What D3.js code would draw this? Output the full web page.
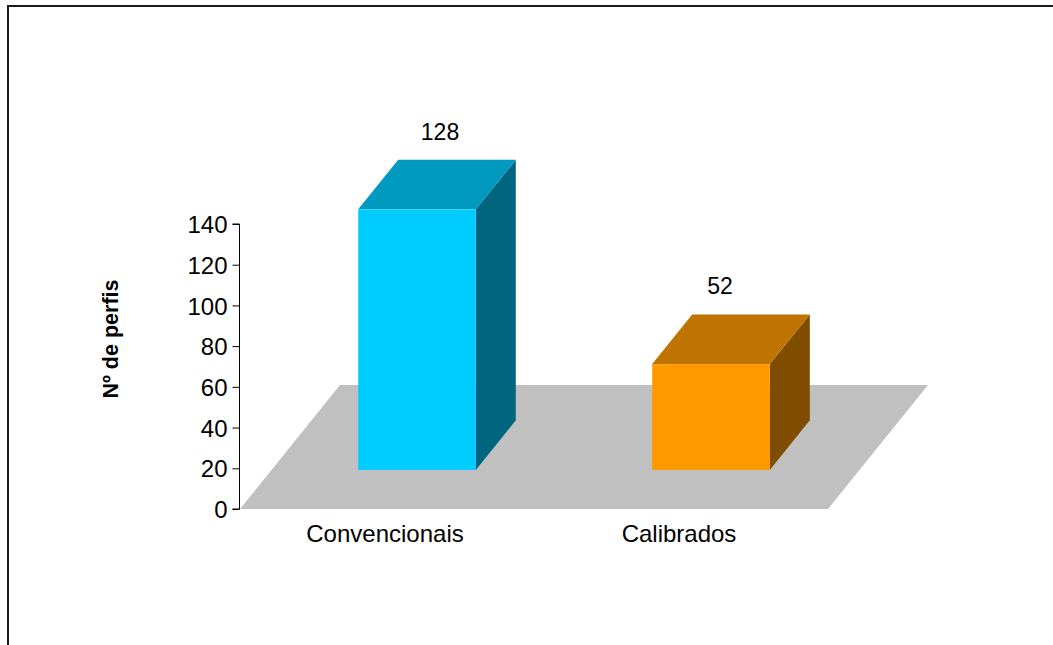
<!DOCTYPE html>
<html>
<head>
<meta charset="utf-8">
<script src="https://cdn.jsdelivr.net/npm/d3@7/dist/d3.min.js"></script>
<style>
  html, body { margin: 0; padding: 0; background: #fff; }
  svg { display: block; font-family: "Liberation Sans", Arial, sans-serif; }
</style>
</head>
<body>
<svg id="chart" width="1053" height="645"></svg>
<script>
// Número de perfis por tipo
const categories = ["Convencionais", "Calibrados"];
const values = [128, 52];
const tickValues = [0, 20, 40, 60, 80, 100, 120, 140];
const axisTitle = "Nº de perfis";

// Cores: frente, topo, lateral
const palette = [
  { front: "#00CCFF", top: "#0099BF", side: "#006680" },
  { front: "#FF9900", top: "#BF7300", side: "#804D00" }
];

const svg = d3.select("#chart");

// Moldura do gráfico
svg.append("rect")
  .attr("x", 8).attr("y", 6)
  .attr("width", 1100).attr("height", 700)
  .attr("fill", "none")
  .attr("stroke", "#1a1a1a")
  .attr("stroke-width", 2);

// Escalas
const x = d3.scaleBand()
  .domain(categories)
  .range([240, 828])
  .paddingInner(0.6)
  .paddingOuter(0.3);

const y = d3.scaleLinear()
  .domain([0, 140])
  .range([509, 224]);

// Profundidade oblíqua do piso e das barras
const depth = { dx: 100, dy: -124 };
const barDepth0 = 0.3, barDepth1 = 0.7;

const pt = (px, py) => px + "," + py;

// Piso
const y0 = y(0);
const x0 = x.range()[0], x1 = x.range()[1];
svg.append("polygon")
  .attr("points", [
    pt(x0, y0), pt(x1, y0),
    pt(x1 + depth.dx, y0 + depth.dy), pt(x0 + depth.dx, y0 + depth.dy)
  ].join(" "))
  .attr("fill", "#C0C0C0");

// Barras 3D
const bars = svg.append("g");
categories.forEach((c, i) => {
  const v = values[i];
  const col = palette[i];
  const fx = x(c) + depth.dx * barDepth0;
  const fy = depth.dy * 0.315;
  const w = x.bandwidth();
  const bx = depth.dx * (barDepth1 - barDepth0);
  const by = depth.dy * (barDepth1 - barDepth0);
  const bottom = y(0) + fy;
  const top = y(v) + fy;

  // lateral
  bars.append("polygon")
    .attr("points", [
      pt(fx + w, bottom), pt(fx + w, top),
      pt(fx + w + bx, top + by), pt(fx + w + bx, bottom + by)
    ].join(" "))
    .attr("fill", col.side);
  // topo
  bars.append("polygon")
    .attr("points", [
      pt(fx, top), pt(fx + w, top),
      pt(fx + w + bx, top + by), pt(fx + bx, top + by)
    ].join(" "))
    .attr("fill", col.top);
  // frente
  bars.append("rect")
    .attr("x", fx).attr("y", top)
    .attr("width", w).attr("height", bottom - top)
    .attr("fill", col.front);

  // rótulo de valor
  bars.append("text")
    .attr("x", fx + w / 2 + bx / 2 + (i === 0 ? 3 : -11))
    .attr("y", top + by - 20)
    .attr("text-anchor", "middle")
    .attr("font-size", 23)
    .attr("fill", "#000")
    .text(v);
});

// Eixo vertical
const axis = d3.axisLeft(y)
  .tickValues(tickValues)
  .tickSize(7)
  .tickPadding(5)
  .tickFormat(d3.format("d"));

const gAxis = svg.append("g")
  .attr("transform", "translate(239.5,0)")
  .call(axis);
gAxis.select(".domain").attr("stroke", "#000").attr("d", "M-7," + y(140) + "H0V" + y(0) + "H-7");
gAxis.selectAll(".tick line").attr("stroke", "#000");
gAxis.selectAll(".tick text")
  .attr("font-size", 24)
  .attr("font-family", "Liberation Sans, Arial, sans-serif")
  .attr("fill", "#000")
  .attr("dy", "0.36em");

// Rótulos das categorias
svg.append("g").selectAll("text")
  .data(categories)
  .join("text")
  .attr("x", d => x(d) + x.bandwidth() / 2 - 2)
  .attr("y", 542)
  .attr("text-anchor", "middle")
  .attr("font-size", 24)
  .attr("fill", "#000")
  .text(d => d);

// Título do eixo
svg.append("text")
  .attr("transform", "translate(118,339) rotate(-90)")
  .attr("text-anchor", "middle")
  .attr("font-size", 21.5)
  .attr("font-weight", "bold")
  .attr("fill", "#000")
  .text(axisTitle);
</script>
</body>
</html>
